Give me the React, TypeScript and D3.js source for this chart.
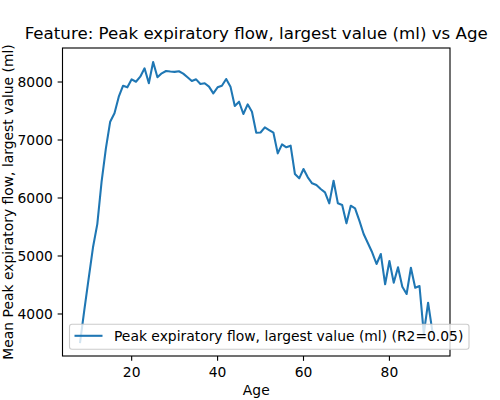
import React from "react";
import * as d3 from "d3";

const ages = [
  8, 9, 10, 11, 12, 13, 14, 15, 16, 17, 18, 19, 20, 21, 22, 23, 24, 25, 26, 27,
  28, 29, 30, 31, 32, 33, 34, 35, 36, 37, 38, 39, 40, 41, 42, 43, 44, 45, 46, 47,
  48, 49, 50, 51, 52, 53, 54, 55, 56, 57, 58, 59, 60, 61, 62, 63, 64, 65, 66, 67,
  68, 69, 70, 71, 72, 73, 74, 75, 76, 77, 78, 79, 80, 81, 82, 83, 84, 85, 86, 87,
  88, 89, 90,
];

const meanPef = [
  3517, 4080, 4620, 5150, 5550, 6281, 6856, 7316, 7460, 7747, 7936, 7908, 8046, 8005, 8092, 8236, 7978, 8345, 8081, 8150,
  8190, 8180, 8175, 8185, 8145, 8081, 8017, 8046, 7966, 7978, 7920, 7805, 7908, 7936, 8052, 7920, 7586, 7660, 7448, 7615,
  7488, 7126, 7130, 7218, 7172, 7126, 6770, 6925, 6874, 6902, 6414, 6339, 6500, 6357, 6253, 6224, 6155, 6098, 5908, 6298,
  5908, 5879, 5563, 5867, 5822, 5609, 5380, 5220, 5060, 4862, 5034, 4512, 4914, 4540, 4805, 4471, 4345, 4798, 4454, 4483,
  3660, 4195, 3700,
];

const xTicks = [20, 40, 60, 80];
const yTicks = [4000, 5000, 6000, 7000, 8000];

const titleText = "Feature: Peak expiratory flow, largest value (ml) vs Age";
const xLabel = "Age";
const yLabel = "Mean Peak expiratory flow, largest value (ml)";
const legendLabel = "Peak expiratory flow, largest value (ml) (R2=0.05)";

const W = 500;
const H = 400;
const L = 62.5;
const R = 450;
const T = 48;
const B = 356;
const FONT = "'DejaVu Sans', sans-serif";
const BLUE = "#1f77b4";
const LW = 2.08;
const SW = 1.11;

function padDomain(vals: number[]): [number, number] {
  const lo = d3.min(vals) as number;
  const hi = d3.max(vals) as number;
  const s = hi - lo;
  return [lo - 0.05 * s, hi + 0.05 * s];
}

export default function App() {
  const x = d3.scaleLinear().domain(padDomain(ages)).range([L, R]);
  const y = d3.scaleLinear().domain(padDomain(meanPef)).range([B, T]);
  const pts = ages.map((a, i) => [a, meanPef[i]] as [number, number]);
  const line = d3
    .line<[number, number]>()
    .x((d) => x(d[0]))
    .y((d) => y(d[1]));

  const legX = 69.5;
  const legY = 324.3;
  const legW = 399.5;
  const legH = 25;

  return (
    <svg
      width={W}
      height={H}
      style={{ position: "absolute", left: 0, top: 0, background: "#fff" }}
      fontFamily={FONT}
    >
      <rect x={0} y={0} width={W} height={H} fill="#fff" />
      <defs>
        <clipPath id="plotclip">
          <rect x={L} y={T} width={R - L} height={B - T} />
        </clipPath>
      </defs>
      <path
        d={line(pts) || ""}
        fill="none"
        stroke={BLUE}
        strokeWidth={LW}
        strokeLinejoin="round"
        strokeLinecap="square"
        clipPath="url(#plotclip)"
      />
      {/* spines */}
      <rect x={L} y={T} width={R - L} height={B - T} fill="none" stroke="#000" strokeWidth={SW} />
      {/* x ticks */}
      {xTicks.map((t) => (
        <g key={"x" + t}>
          <line x1={x(t)} x2={x(t)} y1={B} y2={B + 4.86} stroke="#000" strokeWidth={SW} />
          <text x={x(t)} y={B + 21} textAnchor="middle" fontSize={13.89} fill="#000">
            {t}
          </text>
        </g>
      ))}
      {/* y ticks */}
      {yTicks.map((t) => (
        <g key={"y" + t}>
          <line x1={L - 4.86} x2={L} y1={y(t)} y2={y(t)} stroke="#000" strokeWidth={SW} />
          <text x={L - 9.7} y={y(t)} dy="0.35em" textAnchor="end" fontSize={13.89} fill="#000">
            {t}
          </text>
        </g>
      ))}
      {/* legend */}
      <rect
        x={legX}
        y={legY}
        width={legW}
        height={legH}
        rx={2.5}
        fill="#fff"
        fillOpacity={0.8}
        stroke="#cccccc"
        strokeWidth={SW}
      />
      <line x1={74.5} x2={102.5} y1={legY + 11.5} y2={legY + 11.5} stroke={BLUE} strokeWidth={LW} />
      <text x={114} y={legY + 11.5} dy="0.35em" fontSize={13.89} fill="#000">
        {legendLabel}
      </text>
      {/* title & labels */}
      <text x={(L + R) / 2} y={39} textAnchor="middle" fontSize={16.67} fill="#000">
        {titleText}
      </text>
      <text x={(L + R) / 2} y={395} textAnchor="middle" fontSize={13.89} fill="#000">
        {xLabel}
      </text>
      <text
        transform={`translate(12.5, ${(T + B) / 2}) rotate(-90)`}
        textAnchor="middle"
        fontSize={13.89}
        fill="#000"
      >
        {yLabel}
      </text>
    </svg>
  );
}
